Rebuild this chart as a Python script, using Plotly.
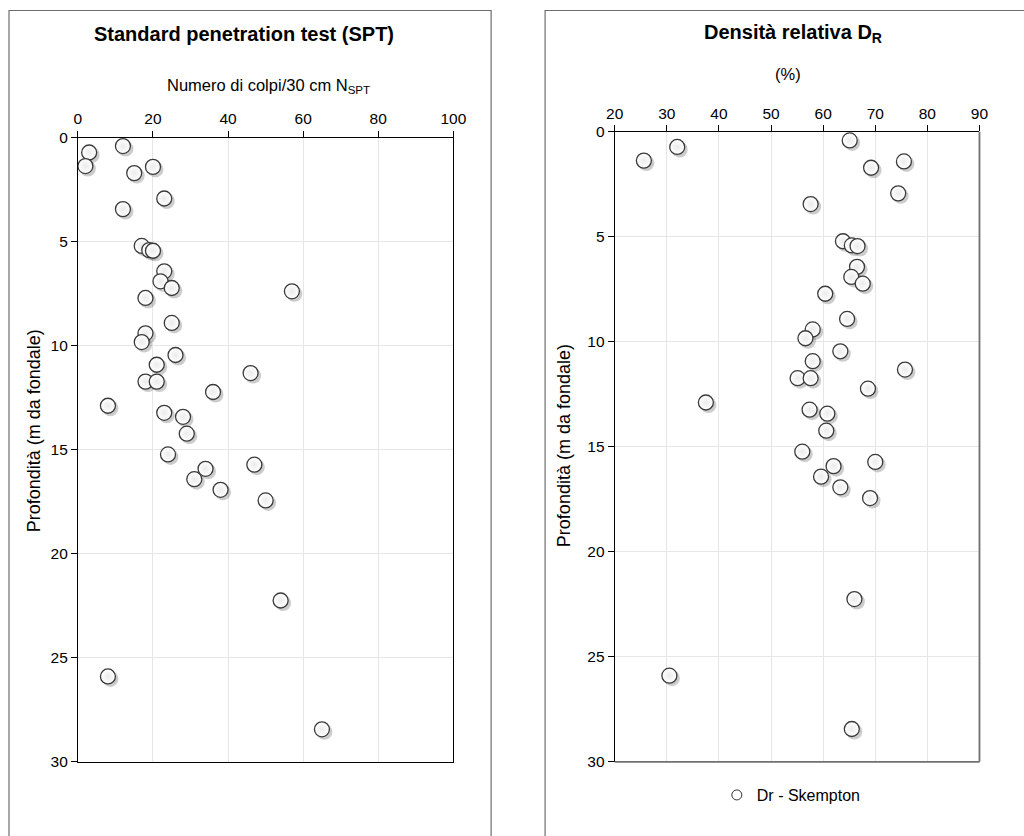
import plotly.graph_objects as go

# ---------------- data ----------------
depth_m = [0.41, 0.72, 1.37, 1.41, 1.71, 2.93, 3.44, 5.21, 5.41, 5.44,
           6.43, 6.91, 7.23, 7.39, 7.71, 8.91, 9.41, 9.83, 10.45, 10.92,
           11.32, 11.73, 11.73, 12.23, 12.89, 13.23, 13.42, 14.23, 15.23, 15.72,
           15.92, 16.42, 16.93, 17.44, 22.25, 25.90, 28.44]

n_spt = [12, 3, 2, 20, 15, 23, 12, 17, 19, 20,
         23, 22, 25, 57, 18, 25, 18, 17, 26, 21,
         46, 18, 21, 36, 8, 23, 28, 29, 24, 47,
         34, 31, 38, 50, 54, 8, 65]

dr_skempton = [65.1, 32.0, 25.6, 75.5, 69.2, 74.4, 57.6, 63.8, 65.5, 66.6,
               66.5, 65.4, 67.6, None, 60.4, 64.6, 58.0, 56.6, 63.3, 58.0,
               75.7, 55.1, 57.6, 68.6, 37.5, 57.4, 60.8, 60.6, 56.0, 70.0,
               62.0, 59.6, 63.3, 69.0, 66.0, 30.5, 65.5]

spt_ticks = [0, 20, 40, 60, 80, 100]
dr_ticks = [20, 30, 40, 50, 60, 70, 80, 90]
depth_ticks = [0, 5, 10, 15, 20, 25, 30]

# ---------------- layout geometry ----------------
W, H = 1024, 836
# effective drawing area seen in the screenshot (page has an 8 px body margin)
OFF = 8
WE, HE = W - 2 * OFF, H - 2 * OFF
FONT = "Liberation Sans, Arial, sans-serif"

def px_x(p):
    return (p - OFF) / WE

def px_y(p):
    return 1 - (p - OFF) / HE

L_dom_x = [px_x(77.3), px_x(455)]
L_dom_y = [px_y(761.7), px_y(136.7)]
R_dom_x = [px_x(617.3), px_x(984.3)]
R_dom_y = [px_y(761.7), px_y(131)]

L_xr = [0, 100]
R_xr = [20, 90]
YR = [30, 0]

# shadow offsets (pixels -> data units)
SH_PX = 2.5
def shift_x(vals, dom, rng):
    k = (rng[1] - rng[0]) / ((dom[1] - dom[0]) * WE)
    return [None if v is None else v + SH_PX * k for v in vals]

def shift_y(vals, dom, rng):
    k = abs(rng[0] - rng[1]) / ((dom[1] - dom[0]) * HE)
    return [None if v is None else v + SH_PX * k for v in vals]

fig = go.Figure()

marker_main = dict(size=15, color="#ffffff", symbol="circle",
                   gradient=dict(type="radial", color="#ebebeb"),
                   line=dict(color="#3a3a3a", width=1.3))
marker_shadow = dict(size=16, color="rgba(0,0,0,0.2)", line=dict(width=0))

# left chart
fig.add_trace(go.Scatter(x=shift_x(n_spt, L_dom_x, L_xr), y=shift_y(depth_m, L_dom_y, YR),
                         mode="markers", marker=marker_shadow, xaxis="x", yaxis="y",
                         showlegend=False, hoverinfo="skip"))
fig.add_trace(go.Scatter(x=n_spt, y=depth_m, mode="markers", marker=marker_main,
                         xaxis="x", yaxis="y", name="NSPT", showlegend=False))

# right chart
fig.add_trace(go.Scatter(x=shift_x(dr_skempton, R_dom_x, R_xr), y=shift_y(depth_m, R_dom_y, YR),
                         mode="markers", marker=marker_shadow, xaxis="x2", yaxis="y2",
                         showlegend=False, hoverinfo="skip"))
fig.add_trace(go.Scatter(x=dr_skempton, y=depth_m, mode="markers", marker=marker_main,
                         xaxis="x2", yaxis="y2", name="Dr - Skempton", showlegend=False))
# legend entry
fig.add_trace(go.Scatter(x=[None], y=[None], mode="markers", xaxis="x2", yaxis="y2",
                         marker=dict(size=10, color="#ffffff", line=dict(color="#333333", width=1)),
                         name="Dr - Skempton", showlegend=True))

axis_common = dict(ticks="outside", ticklen=6, tickcolor="#000000", tickwidth=1,
                   showline=True, linecolor="#000000", linewidth=1,
                   showgrid=True, gridcolor="#e6e6e6", gridwidth=1, zeroline=False,
                   tickfont=dict(family=FONT, size=15.5, color="#000000"), fixedrange=True)

fig.update_layout(
    width=W, height=H, autosize=False,
    margin=dict(l=0, r=0, t=0, b=0),
    paper_bgcolor="#ffffff", plot_bgcolor="#ffffff",
    font=dict(family=FONT, size=15, color="#000000"),
    xaxis=dict(domain=L_dom_x, range=L_xr, side="top", tickvals=spt_ticks, anchor="y",
               mirror=True, **axis_common),
    yaxis=dict(domain=L_dom_y, range=YR, tickvals=depth_ticks, anchor="x",
               mirror=True, **axis_common),
    xaxis2=dict(domain=R_dom_x, range=R_xr, side="top", tickvals=dr_ticks, anchor="y2",
                **axis_common),
    yaxis2=dict(domain=R_dom_y, range=YR, tickvals=depth_ticks, anchor="x2",
                **axis_common),
    legend=dict(orientation="h", x=px_x(795), y=px_y(795), xanchor="center", yanchor="middle",
                font=dict(family=FONT, size=16, color="#000000"), bgcolor="rgba(0,0,0,0)",
                itemwidth=30),
    showlegend=True,
)

shapes = [
    # outer chart boxes
    dict(type="rect", xref="paper", yref="paper", x0=px_x(8), x1=px_x(493), y0=px_y(900), y1=px_y(9.5),
         line=dict(color="#6e6e6e", width=1.2), fillcolor="rgba(0,0,0,0)", layer="below"),
    dict(type="rect", xref="paper", yref="paper", x0=px_x(547.3), x1=px_x(1100), y0=px_y(900), y1=px_y(9.5),
         line=dict(color="#6e6e6e", width=1.2), fillcolor="rgba(0,0,0,0)", layer="below"),
    # right plot: gray bottom and right borders
    dict(type="line", xref="x2 domain", yref="y2 domain", x0=0, x1=1, y0=0, y1=0,
         line=dict(color="#707070", width=1.8)),
    dict(type="line", xref="x2 domain", yref="y2 domain", x0=1, x1=1, y0=0, y1=1,
         line=dict(color="#707070", width=1.8)),
]

annotations = [
    dict(text="<b>Standard penetration test (SPT)</b>", x=px_x(244.5), y=px_y(33),
         font=dict(size=20)),
    dict(text="Numero di colpi/30 cm N<sub>SPT</sub>", x=px_x(269.5), y=px_y(85),
         font=dict(size=16.5)),
    dict(text="Profondità (m da fondale)", x=px_x(34), y=px_y(430), textangle=-90,
         font=dict(size=18)),
    dict(text="<b>Densità relativa D<sub>R</sub></b>", x=px_x(797), y=px_y(33),
         font=dict(size=20)),
    dict(text="(%)", x=px_x(792), y=px_y(73), font=dict(size=16.5)),
    dict(text="Profondità (m da fondale)", x=px_x(567), y=px_y(445), textangle=-90,
         font=dict(size=18)),
]
for a in annotations:
    a.update(xref="paper", yref="paper", showarrow=False, xanchor="center", yanchor="middle")
    a["font"].update(family=FONT, color="#000000")

fig.update_layout(shapes=shapes, annotations=annotations)

fig.write_html("out.html")
